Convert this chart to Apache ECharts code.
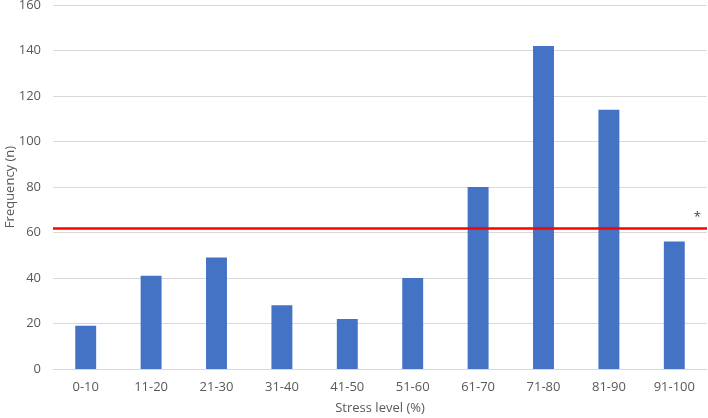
<!DOCTYPE html>
<html>
<head>
<meta charset="utf-8">
<script src="https://cdn.jsdelivr.net/npm/echarts@6/dist/echarts.min.js"></script>
<style>html,body{margin:0;padding:0;background:#fff}#c{width:708px;height:418px}</style>
</head>
<body>
<div id="c"></div>
<script>
var categories = ['0-10','11-20','21-30','31-40','41-50','51-60','61-70','71-80','81-90','91-100'];
var frequency = [19, 41, 49, 28, 22, 40, 80, 142, 114, 56];
var thresholdValue = 62;
var yTicks = {min: 0, max: 160, interval: 20};

var chart = echarts.init(document.getElementById('c'));
var font = '"Open Sans", "Noto Sans", sans-serif';
chart.setOption({
  animation: false,
  grid: {left: 53, right: 1, top: 5, bottom: 49, containLabel: false, outerBoundsMode: 'none'},
  xAxis: {
    type: 'category',
    data: categories,
    name: 'Stress level (%)',
    nameLocation: 'middle',
    nameGap: 33,
    nameMoveOverlap: false,
    nameTextStyle: {color: '#595959', fontSize: 13, fontFamily: font},
    axisLine: {lineStyle: {color: '#d9d9d9'}},
    axisTick: {show: false},
    axisLabel: {color: '#595959', fontSize: 13, fontFamily: font, margin: 12}
  },
  yAxis: {
    type: 'value',
    min: yTicks.min, max: yTicks.max, interval: yTicks.interval,
    name: 'Frequency (n)',
    nameLocation: 'middle',
    nameGap: 36,
    nameMoveOverlap: false,
    nameTextStyle: {color: '#595959', fontSize: 13, fontFamily: font},
    axisLine: {show: false},
    axisTick: {show: false},
    axisLabel: {color: '#595959', fontSize: 13, fontFamily: font, margin: 12},
    splitLine: {lineStyle: {color: '#d9d9d9'}}
  },
  series: [{
    type: 'bar',
    data: frequency,
    barCategoryGap: '68%',
    itemStyle: {color: '#4472c4'},
    markLine: {
      silent: true,
      symbol: 'none',
      lineStyle: {color: '#ff0000', width: 2.5, type: 'solid'},
      label: {show: true, position: 'insideEndTop', formatter: '*', color: '#404040', fontSize: 13, fontFamily: font, distance: [6, 4]},
      data: [{yAxis: thresholdValue}]
    }
  }]
});
</script>
</body>
</html>
